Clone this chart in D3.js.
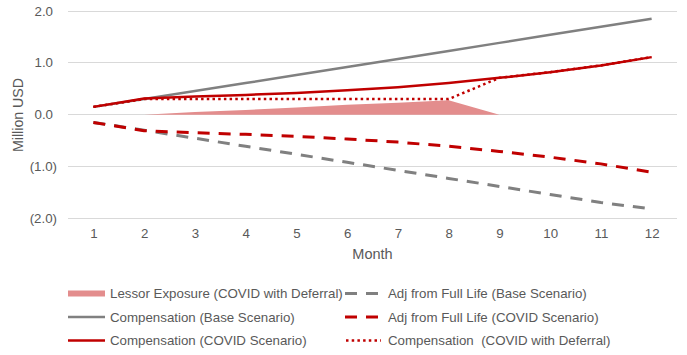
<!DOCTYPE html>
<html>
<head>
<meta charset="utf-8">
<script src="https://cdn.jsdelivr.net/npm/d3@7"></script>
<style>
  html, body { margin: 0; padding: 0; background: #fff; }
  svg { display: block; font-family: "Liberation Sans", Arial, sans-serif; }
</style>
</head>
<body>
<svg id="chart" width="687" height="355"></svg>
<script>
// ---- data ----
const months = [1, 2, 3, 4, 5, 6, 7, 8, 9, 10, 11, 12];
const yTicks = [-2, -1, 0, 1, 2];
const lessorMonths = [2, 3, 4, 5, 6, 7, 8, 9];
const lessorExposure = [0, 0.05, 0.09, 0.14, 0.19, 0.23, 0.28, 0];
const compBase = [0.15, 0.30, 0.455, 0.61, 0.765, 0.92, 1.075, 1.23, 1.385, 1.54, 1.695, 1.85];
const compCovid = [0.15, 0.31, 0.35, 0.38, 0.42, 0.47, 0.53, 0.61, 0.71, 0.82, 0.95, 1.11];
const compDeferral = [0.15, 0.30, 0.30, 0.30, 0.30, 0.30, 0.30, 0.30, 0.71, 0.82, 0.95, 1.11];
const adjBase = [-0.15, -0.30, -0.455, -0.61, -0.765, -0.92, -1.075, -1.23, -1.385, -1.54, -1.695, -1.82];
const adjCovid = [-0.15, -0.31, -0.35, -0.38, -0.42, -0.47, -0.53, -0.61, -0.71, -0.82, -0.95, -1.11];

const RED = "#C00000", GREY = "#808080", PINK = "#E38D8D", TEXT = "#595959";
const FS = 13.3;

const svg = d3.select("#chart");
const x = d3.scalePoint().domain(months).range([68, 677]).padding(0.5);
const y = d3.scaleLinear().domain([-2, 2]).range([218.3, 11]);

// gridlines
svg.append("g").selectAll("line").data(yTicks).join("line")
  .attr("x1", 68).attr("x2", 677)
  .attr("y1", d => y(d)).attr("y2", d => y(d))
  .attr("stroke", "#D9D9D9").attr("stroke-width", 1).attr("shape-rendering", "crispEdges");

// y tick labels
const fmt = d => d < 0 ? "(" + d3.format(".1f")(-d) + ")" : d3.format(".1f")(d);
svg.append("g").selectAll("text").data(yTicks).join("text")
  .attr("x", d => d < 0 ? 57 : 53).attr("y", d => y(d)).attr("dy", "0.35em")
  .attr("text-anchor", "end").attr("font-size", FS).attr("fill", TEXT)
  .text(fmt);

// x axis labels
const xAxis = d3.axisBottom(x).tickSize(0).tickPadding(0);
const gx = svg.append("g").attr("transform", "translate(0,229)").call(xAxis);
gx.select(".domain").remove();
gx.selectAll("text").attr("font-size", FS).attr("fill", TEXT)
  .attr("font-family", "Liberation Sans, Arial, sans-serif");

// axis titles
svg.append("text").attr("x", 372.5).attr("y", 259).attr("text-anchor", "middle")
  .attr("font-size", 14.5).attr("fill", TEXT).text("Month");
svg.append("text").attr("transform", "translate(23,115) rotate(-90)")
  .attr("text-anchor", "middle").attr("font-size", 14.2).attr("fill", TEXT).text("Million USD");

// series
const line = d3.line().x((d, i) => x(months[i])).y(d => y(d));
const area = d3.area().x((d, i) => x(lessorMonths[i])).y0(y(0)).y1(d => y(d));

svg.append("path").attr("d", area(lessorExposure)).attr("fill", PINK);

const series = [
  { name: "Adj from Full Life (Base Scenario)", data: adjBase, color: GREY, width: 3, dash: "12,9" },
  { name: "Compensation (Base Scenario)", data: compBase, color: GREY, width: 2.5, dash: null },
  { name: "Adj from Full Life (COVID Scenario)", data: adjCovid, color: RED, width: 3, dash: "12,9" },
  { name: "Compensation (COVID Scenario)", data: compCovid, color: RED, width: 2.5, dash: null },
  { name: "Compensation  (COVID with Deferral)", data: compDeferral, color: RED, width: 2.5, dash: "2.5,3.2" }
];
series.forEach(s => {
  svg.append("path").attr("d", line(s.data)).attr("fill", "none")
    .attr("stroke", s.color).attr("stroke-width", s.width)
    .attr("stroke-dasharray", s.dash).attr("stroke-linejoin", "round");
});

// legend
const legend = [
  { name: "Lessor Exposure (COVID with Deferral)", type: "area", col: 0, row: 0 },
  { name: series[0].name, s: series[0], col: 1, row: 0 },
  { name: series[1].name, s: series[1], col: 0, row: 1 },
  { name: series[2].name, s: series[2], col: 1, row: 1 },
  { name: series[3].name, s: series[3], col: 0, row: 2 },
  { name: series[4].name, s: series[4], col: 1, row: 2 }
];
const colX = [[68, 105, 110], [346, 380, 388]];
const rowY = [293.5, 317, 340.5];
legend.forEach(l => {
  const [x0, x1, tx] = colX[l.col];
  const yy = rowY[l.row];
  if (l.type === "area") {
    svg.append("rect").attr("x", x0).attr("y", yy - 3).attr("width", x1 - x0).attr("height", 6).attr("fill", PINK);
  } else {
    const sx0 = l.col === 0 ? x0 : (l.s.dash === "2.5,3.2" ? 346 : 345);
    const sx1 = l.col === 0 ? x1 : 381;
    svg.append("line").attr("x1", sx0).attr("x2", sx1).attr("y1", yy).attr("y2", yy)
      .attr("stroke", l.s.color).attr("stroke-width", l.s.width).attr("stroke-dasharray", l.s.dash);
  }
  svg.append("text").attr("x", tx).attr("y", yy).attr("dy", "0.35em")
    .attr("font-size", FS).attr("fill", TEXT).style("white-space", "pre").text(l.name);
});
</script>
</body>
</html>
